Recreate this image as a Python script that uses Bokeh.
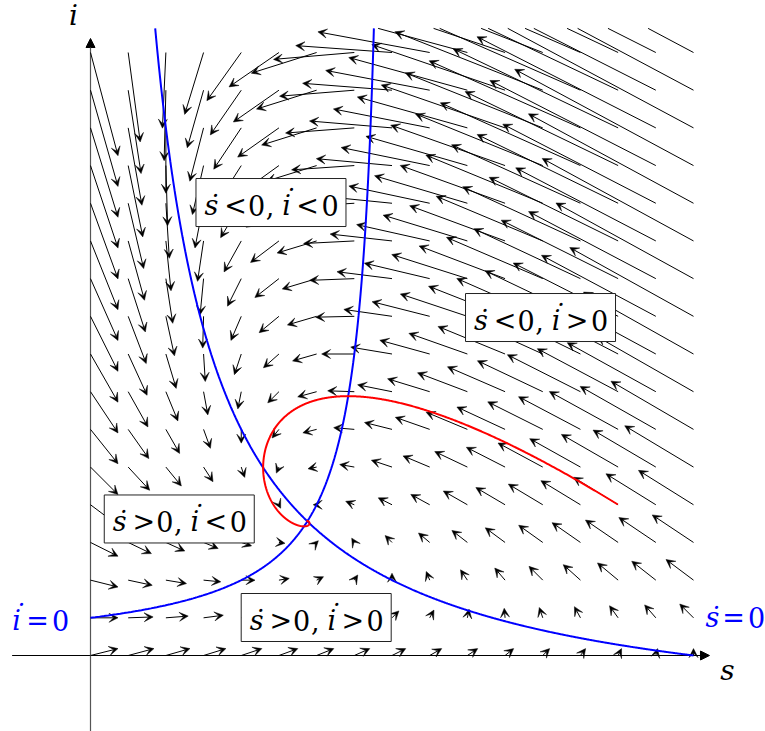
import numpy as np
from bokeh.plotting import figure
from bokeh.models import Range1d, Arrow, VeeHead, NormalHead, ColumnDataSource
from bokeh.core.properties import value
from bokeh.embed import file_html
from bokeh.resources import INLINE

# ---- model: s' = mu(1-s) - beta s i ,  i' = alpha + beta s i - gamma i
mu = 0.125
beta = 1.0
gamma = 0.5
alpha = 0.03125

# grid of the vector field
s_grid = [0.0, 0.0625, 0.125, 0.1875, 0.25, 0.3125, 0.375, 0.4375, 0.5,
          0.5625, 0.625, 0.6875, 0.75, 0.8125, 0.875, 0.9375, 1.0]
i_grid = [0.0, 0.0625, 0.125, 0.1875, 0.25, 0.3125, 0.375, 0.4375, 0.5,
          0.5625, 0.625, 0.6875, 0.75, 0.8125, 0.875, 0.9375, 1.0]
arrow_scale = 0.365
i_clip = 1.04

# trajectory (red)
traj_start = [0.8745, 0.2504]
traj_time = 40.0

# region labels: (centre s, centre i, first relation, second relation)
region_s = [0.2993, 0.7463, 0.1472, 0.3743]
region_i = [0.7512, 0.5605, 0.2264, 0.0630]
region_rel1 = ["<", "<", ">", ">"]
region_rel2 = ["<", ">", "<", ">"]

# nullcline labels: derivative letter, then "= 0"
null_letter = ["i", "s"]
null_s = [-0.1227, 1.0315]
null_i = [0.0415, 0.0464]

def field(s, i):
    ds = mu * (1 - s) - beta * s * i
    di = alpha + beta * s * i - gamma * i
    return ds, di

U = 603.0
W, H = 765, 731
X0, Y0 = 90, 655
TXT_SHIFT = 10 / U   # lift texts so their baseline matches
p = figure(width=W, height=H, output_backend="svg", toolbar_location=None,
           x_range=Range1d(-X0 / U, (W - X0) / U),
           y_range=Range1d((Y0 - H) / U, Y0 / U),
           x_axis_type=None, y_axis_type=None, min_border=0)
p.grid.visible = False
p.outline_line_color = None
p.background_fill_color = "white"

# axes
p.add_layout(Arrow(x_start=-0.13, y_start=0, x_end=1.0265, y_end=0,
                   line_color="black", line_width=1.2, level="underlay",
                   end=NormalHead(size=9, fill_color="black", line_color="black")))
p.add_layout(Arrow(x_start=0, y_start=-0.14, x_end=0, y_end=1.0232,
                   line_color="#555555", line_width=1.2, level="underlay",
                   end=NormalHead(size=9, fill_color="black", line_color="black")))

# vector field
xs, ys, xe, ye = [], [], [], []
cxs, cys, cxe, cye = [], [], [], []
for s in s_grid:
    for i in i_grid:
        ds, di = field(s, i)
        ex, ey = s + ds * arrow_scale, i + di * arrow_scale
        if ey > i_clip:
            t = (i_clip - i) / (ey - i)
            cxs.append(s); cys.append(i)
            cxe.append(s + t * (ex - s)); cye.append(i_clip)
        else:
            xs.append(s); ys.append(i); xe.append(ex); ye.append(ey)

asrc = ColumnDataSource(dict(x0=xs, y0=ys, x1=xe, y1=ye))
p.add_layout(Arrow(source=asrc, x_start="x0", y_start="y0", x_end="x1", y_end="y1",
                   line_color="black", line_width=1, level="underlay",
                   end=VeeHead(size=9, fill_color="black", line_color="black", line_width=0.5)))
p.segment(x0=cxs, y0=cys, x1=cxe, y1=cye, line_color="black", line_width=1)

# nullclines
s1 = np.linspace(mu / (beta * i_clip + mu), 1.0, 1000)
p.line(s1, mu * (1 - s1) / (beta * s1), line_color="#0000ff", line_width=2)
i2 = np.linspace(alpha / gamma, i_clip, 1000)
p.line((gamma - alpha / i2) / beta, i2, line_color="#0000ff", line_width=2)

# trajectory via RK4
dt = 0.01
st = [traj_start[0]]; it = [traj_start[1]]
s, i = traj_start
for _ in range(int(traj_time / dt)):
    k1 = field(s, i)
    k2 = field(s + dt / 2 * k1[0], i + dt / 2 * k1[1])
    k3 = field(s + dt / 2 * k2[0], i + dt / 2 * k2[1])
    k4 = field(s + dt * k3[0], i + dt * k3[1])
    s += dt / 6 * (k1[0] + 2 * k2[0] + 2 * k3[0] + k4[0])
    i += dt / 6 * (k1[1] + 2 * k2[1] + 2 * k3[1] + k4[1])
    st.append(s); it.append(i)
p.line(st, it, line_color="#ff0000", line_width=2)

# region boxes
p.rect(x=region_s, y=region_i, width=150, height=48, width_units="screen",
       height_units="screen", fill_color="white", line_color="#222222", line_width=1)

FONT = value("DejaVu Serif")
SIZE = "27px"

it_x, it_y, it_t, it_dx, it_dy, it_col = [], [], [], [], [], []
up_x, up_y, up_t, up_dx, up_col = [], [], [], [], []

def add_it(x, y, t, dx, dy, col):
    it_x.append(x); it_y.append(y + TXT_SHIFT); it_t.append(t)
    it_dx.append(dx); it_dy.append(dy); it_col.append(col)

def add_up(x, y, t, dx, col):
    up_x.append(x); up_y.append(y + TXT_SHIFT); up_t.append(t)
    up_dx.append(dx); up_col.append(col)

offs = [-59.5, -35.5, -14.5, -1.0, 15.5, 36.5, 59.0]
base = 13 / U
for cs, ci, r1, r2 in zip(region_s, region_i, region_rel1, region_rel2):
    y = ci - base
    add_it(cs, y, "s", offs[0], 0, "black")
    add_it(cs, y, "\u02d9", offs[0] + 1.5, 0, "black")
    add_up(cs, y, r1, offs[1], "black")
    add_up(cs, y, "0", offs[2], "black")
    add_up(cs, y, ",", offs[3], "black")
    add_it(cs, y, "i", offs[4], 0, "black")
    add_it(cs, y, "\u02d9", offs[4] + 2.5, -6, "black")
    add_up(cs, y, r2, offs[5], "black")
    add_up(cs, y, "0", offs[6], "black")

noffs = [0.0, 21.0, 44.0]
for letter, cs, ci in zip(null_letter, null_s, null_i):
    add_it(cs, ci, letter, noffs[0], 0, "#0000ff")
    add_it(cs, ci, "\u02d9", noffs[0] + (2.5 if letter == "i" else 1.5),
           -6 if letter == "i" else 0, "#0000ff")
    add_up(cs, ci, "=", noffs[1], "#0000ff")
    add_up(cs, ci, "0", noffs[2], "#0000ff")

p.text(x="x", y="y", text="t", x_offset="dx", y_offset="dy", text_color="c",
       source=ColumnDataSource(dict(x=it_x, y=it_y, t=it_t, dx=it_dx, dy=it_dy, c=it_col)),
       text_font=FONT, text_font_style="italic", text_font_size=SIZE,
       text_align="center", text_baseline="alphabetic")
p.text(x="x", y="y", text="t", x_offset="dx", text_color="c",
       source=ColumnDataSource(dict(x=up_x, y=up_y, t=up_t, dx=up_dx, c=up_col)),
       text_font=FONT, text_font_size=SIZE,
       text_align="center", text_baseline="alphabetic")

# axis names
p.text(x=[1.0564, -0.0282], y=[-0.0415 + TXT_SHIFT, 1.0448 + TXT_SHIFT], text=["s", "i"],
       text_font=FONT, text_font_style="italic", text_font_size="28px",
       text_align="center", text_baseline="alphabetic", text_color="black")

open("out.html", "w").write(file_html(p, INLINE))
